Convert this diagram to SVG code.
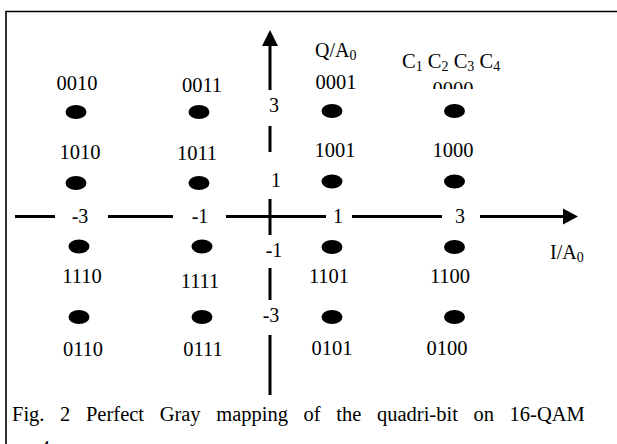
<svg xmlns="http://www.w3.org/2000/svg" width="617" height="444" viewBox="0 0 617 444">
<style>
text{font-family:"Liberation Serif","Times New Roman",serif;fill:#000}
.lb{font-size:20.5px;text-anchor:middle}
.ax{font-size:20px;text-anchor:middle}
.sub{font-size:14px}
.dot{fill:#000}
.axis{stroke:#000;stroke-width:3;fill:none}
.frame{stroke:#000;stroke-width:1.6;fill:none}
</style>
<defs>
<clipPath id="clip0000"><rect x="420" y="60" width="70" height="29"/></clipPath>
</defs>
<rect width="617" height="444" fill="#fff"/>
<path class="frame" d="M6 444 V11.5 H617"/>
<g id="connectors">
<path class="axis" d="M270 46 V90 M270 126 V152 M270 199 V235 M270 268 V300 M270 335 V395"/>
<polygon points="262,46 278,46 270,30" fill="#000"/>
<path class="axis" d="M15 216.5 H55 M108 216.5 H173 M226 216.5 H326 M352 216.5 H442 M480 216.5 H564"/>
<polygon points="563,208.5 563,224.5 578,216.5" fill="#000"/>
</g>
<g id="axis-labels">
<text class="ax" x="80" y="223">-3</text>
<text class="ax" x="200" y="223">-1</text>
<text class="ax" x="338" y="223">1</text>
<text class="ax" x="460" y="223">3</text>
<text class="ax" x="274" y="112">3</text>
<text class="ax" x="276" y="187">1</text>
<text class="ax" x="274" y="257">-1</text>
<text class="ax" x="271" y="322">-3</text>
<text x="315" y="57" font-size="20">Q/A<tspan class="sub" dy="3">0</tspan></text>
<text x="550" y="259" font-size="20">I/A<tspan class="sub" dy="3">0</tspan></text>
<text x="402" y="68" font-size="20.5">C<tspan class="sub" dy="3">1</tspan><tspan dy="-3"> C</tspan><tspan class="sub" dy="3">2</tspan><tspan dy="-3"> C</tspan><tspan class="sub" dy="3">3</tspan><tspan dy="-3"> C</tspan><tspan class="sub" dy="3">4</tspan></text>
</g>
<g id="p0010"><ellipse class="dot" cx="76" cy="112" rx="10.5" ry="7"/><text class="lb" x="77" y="90">0010</text></g>
<g id="p0011"><ellipse class="dot" cx="199" cy="112" rx="10.5" ry="7"/><text class="lb" x="202" y="92">0011</text></g>
<g id="p0001"><ellipse class="dot" cx="332" cy="111" rx="10.5" ry="7"/><text class="lb" x="336" y="89">0001</text></g>
<g id="p0000"><ellipse class="dot" cx="454.5" cy="111" rx="10.5" ry="7"/><text class="lb" x="453" y="96" clip-path="url(#clip0000)">0000</text></g>
<g id="p1010"><ellipse class="dot" cx="76" cy="183" rx="10.5" ry="7"/><text class="lb" x="80" y="159">1010</text></g>
<g id="p1011"><ellipse class="dot" cx="199" cy="183" rx="10.5" ry="7"/><text class="lb" x="197" y="160">1011</text></g>
<g id="p1001"><ellipse class="dot" cx="332" cy="181.5" rx="10.5" ry="7"/><text class="lb" x="335" y="157">1001</text></g>
<g id="p1000"><ellipse class="dot" cx="454.5" cy="181.5" rx="10.5" ry="7"/><text class="lb" x="453" y="157">1000</text></g>
<g id="p1110"><ellipse class="dot" cx="79" cy="246.5" rx="10.5" ry="7"/><text class="lb" x="82" y="283">1110</text></g>
<g id="p1111"><ellipse class="dot" cx="202" cy="246.5" rx="10.5" ry="7"/><text class="lb" x="200" y="288" font-size="22">1111</text></g>
<g id="p1101"><ellipse class="dot" cx="332" cy="247" rx="10.5" ry="7"/><text class="lb" x="329" y="283">1101</text></g>
<g id="p1100"><ellipse class="dot" cx="454.5" cy="247" rx="10.5" ry="7"/><text class="lb" x="450" y="283">1100</text></g>
<g id="p0110"><ellipse class="dot" cx="79" cy="317" rx="10.5" ry="7"/><text class="lb" x="83" y="356">0110</text></g>
<g id="p0111"><ellipse class="dot" cx="202" cy="317" rx="10.5" ry="7"/><text class="lb" x="203" y="356">0111</text></g>
<g id="p0101"><ellipse class="dot" cx="332" cy="317" rx="10.5" ry="7"/><text class="lb" x="332" y="355">0101</text></g>
<g id="p0100"><ellipse class="dot" cx="454.5" cy="317" rx="10.5" ry="7"/><text class="lb" x="447" y="355">0100</text></g>
<g id="caption">
<text x="12" y="421" font-size="20.5" word-spacing="10.5">Fig. 2 Perfect Gray mapping of the quadri-bit on 16-QAM</text>
<text x="40" y="455" font-size="20">4</text>
</g>
</svg>
